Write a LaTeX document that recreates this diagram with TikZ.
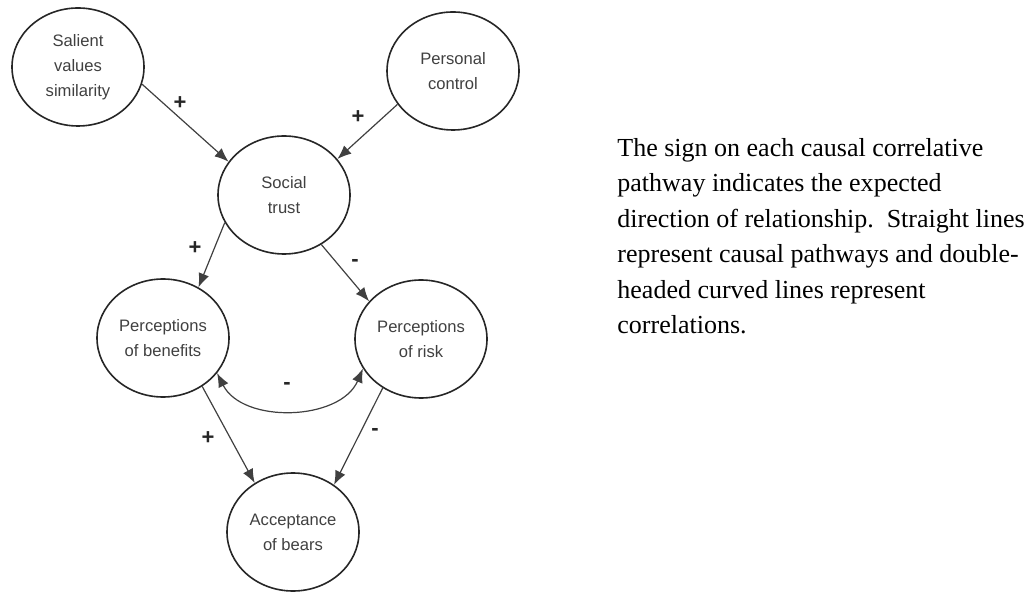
\documentclass[tikz,border=0pt]{standalone}
\usepackage{fontspec}
\setmainfont{Liberation Serif}
\newfontfamily\nodefont{Liberation Sans}
\usetikzlibrary{shapes.geometric}
\usetikzlibrary{arrows.meta}

\tikzset{
   construct/.style={
      draw=black!85,
      line width=0.8pt,
      ellipse,
      minimum width=66pt,
      minimum height=59pt,
      inner sep=0pt,
      align=center,
      text=black!75,
      font=\nodefont\fontsize{8.3}{12.5}\selectfont
   },
   causal/.style={draw=black!75, line width=0.6pt, -{Latex[length=7pt,width=5.5pt]}},
   correl/.style={draw=black!75, line width=0.6pt, {Latex[length=7pt,width=5.5pt]}-{Latex[length=7pt,width=5.5pt]}},
   sign/.style={inner sep=0pt, text=black!85, font=\nodefont\bfseries\fontsize{11}{11}\selectfont}
}

\begin{document}
\begin{tikzpicture}[x=0.5pt,y=-0.5pt]
   \useasboundingbox (0,0) rectangle (1036,592);

   % constructs
   \node[construct] (sal) at (78,67)   {Salient\\values\\similarity};
   \node[construct] (pc)  at (453,71)  {Personal\\control};
   \node[construct] (st)  at (284,195) {Social\\trust};
   \node[construct] (pb)  at (163,338) {Perceptions\\of benefits};
   \node[construct] (pr)  at (421,339) {Perceptions\\of risk};
   \node[construct] (acc) at (293,532) {Acceptance\\of bears};

   % causal pathways
   \draw[causal] (sal.-15) -- (st.149);
   \draw[causal] (pc.211)  -- (st.34);
   \draw[causal] (st.205)  -- (pb.55);
   \draw[causal] (st.-53)  -- (pr.144);
   \draw[causal] (pb.-51)  -- (acc.128);
   \draw[causal] (pr.232)  -- (acc.49);

   % correlation
   \draw[correl] (pb.-33) to[bend right=65] (pr.207);

   % signs
   \node[sign] (s1) at (180,103) {+};
   \node[sign] (s2) at (358,117) {+};
   \node[sign] (s3) at (195,248) {+};
   \node[sign] (s4) at (355,263) {-};
   \node[sign] (s5) at (287,386) {-};
   \node[sign] (s6) at (208,438) {+};
   \node[sign] (s7) at (375,432) {-};

   % note
   \node[anchor=north west, inner sep=0pt, align=left,
      font=\fontsize{13}{17.75}\selectfont] (note) at (617,138)
      {The sign\ on each causal correlative\\
       pathway indicates the expected\\
       direction of relationship.\ \ Straight lines\\
       represent causal pathways and double-\\
       headed curved lines represent\\
       correlations.};
\end{tikzpicture}
\end{document}
